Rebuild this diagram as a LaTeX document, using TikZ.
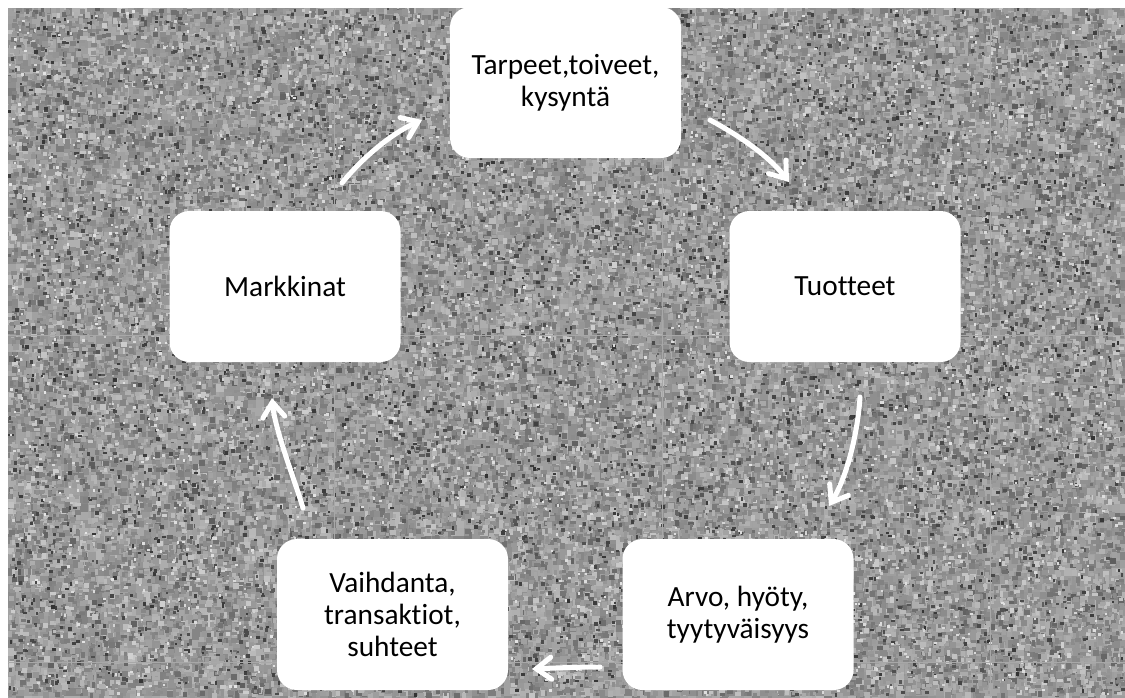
\documentclass[tikz,border=0pt]{standalone}
\usepackage{fontspec}
\setmainfont{Carlito}[Ligatures=NoCommon]
\usetikzlibrary{arrows.meta}

% Speckled granite backdrop, written as plain PDF fill operators
% (coordinates in px, y pointing down, origin at the picture corner).
\makeatletter
\newcount\grI \newcount\grJ \newcount\grK \newcount\grV
\newcount\grN \newcount\grW \newcount\grH
\ifdefined\setrandomseed \setrandomseed 4242 \fi
% coarse mottling: a grid of 8px cells
\def\grFill{%
  \ifnum\grK<20
    \grV=\numexpr 48+\uniformdeviate 14+\uniformdeviate 14\relax
    \edef\grBuf{\grBuf .\the\grV\space g \the\numexpr 8+8*\grI\relax\space
      \the\numexpr 8+8*\grJ\relax\space 8 8 re f }%
    \advance\grI 1 \advance\grK 1
    \expandafter\grFill
  \fi}
\def\grChunk{\def\grBuf{}\grK=0 \grFill\pgfsys@invoke{\grBuf}}
\def\grRow{\ifnum\grI<140 \grChunk\expandafter\grRow\fi}
\def\grRows{\ifnum\grJ<87 \grI=0 \grRow\advance\grJ 1 \expandafter\grRows\fi}
% scattered grains: count, gray base, gray spread (two dice), min size, size spread
\def\grScatter#1#2#3#4#5{%
  \grN=0
  \def\grInner{\ifnum\grK<25
      \grV=\numexpr #2+\uniformdeviate #3+\uniformdeviate #3\relax
      \grW=\numexpr #4+\uniformdeviate #5\relax
      \grH=\numexpr #4+\uniformdeviate #5\relax
      \edef\grBuf{\grBuf .\the\grV\space g
        \the\numexpr 8+\uniformdeviate 1114\relax\space
        \the\numexpr 8+\uniformdeviate 686\relax\space
        \the\grW\space\the\grH\space re f }%
      \advance\grK 1 \advance\grN 1
      \expandafter\grInner\fi}%
  \def\grOuter{\ifnum\grN<#1
      \def\grBuf{}\grK=0 \grInner\pgfsys@invoke{\grBuf}%
      \expandafter\grOuter\fi}%
  \grOuter}
\def\graniteBackdrop{%
  \pgfsys@invoke{q 0.99626 0 0 -0.99626 0 0 cm .60 g 8 8 1117 689 re f}%
  \grJ=0 \grRows
  \grScatter{40000}{36}{24}{3}{4}%
  \grScatter{3500}{20}{9}{2}{3}%
  \grScatter{1600}{82}{5}{2}{2}%
  % faint joints between the stone tiles
  \pgfsys@invoke{.66 g 334.5 8 1 689 re f 662.5 8 1 689 re f 990 8 1 689 re f
    8 334.5 1117 1 re f 8 662.5 1117 1 re f}%
  \pgfsys@invoke{Q}}
\makeatother

\begin{document}
\begin{tikzpicture}[x=1pt,y=-1pt,
  card/.style={fill=white, rounded corners=20pt, minimum width=231pt,
    minimum height=151pt, align=center, inner sep=0pt, text=black,
    font=\fontsize{29.3}{32}\selectfont},
  flow/.style={draw=white, line width=5pt, line cap=round,
    -{Straight Barb[length=15pt,width=22pt,line cap=round]}}]
\useasboundingbox (0,0) rectangle (1125,697);

\graniteBackdrop

% cards
\node[card] (needs)    at (565.5,82.5)  {Tarpeet,toiveet,\\kysyntä};
\node[card] (markets)  at (285,286.5)   {Markkinat};
\node[card] (products) at (845,286.5)   {Tuotteet};
\node[card] (value)    at (738,614.5)   {Arvo, hyöty,\\tyytyväisyys};
\node[card] (exchange) at (392.5,614.5) {Vaihdanta,\\transaktiot,\\suhteet};

% arrow end points
\coordinate (a1s) at (342,183); \coordinate (a1e) at (422,120);
\coordinate (a2s) at (710,120); \coordinate (a2e) at (789,182);
\coordinate (a3s) at (860,397); \coordinate (a3e) at (829,506);
\coordinate (a4s) at (600,667); \coordinate (a4e) at (532,669);
\coordinate (a5s) at (303,508); \coordinate (a5e) at (272,398);

\draw[flow] (a1s) .. controls (362,158) and (392,133) .. (a1e);
\draw[flow] (a2s) .. controls (738,135) and (768,155) .. (a2e);
\draw[flow] (a3s) .. controls (858,430) and (848,475) .. (a3e);
\draw[flow] (a4s) .. controls (578,667) and (555,668) .. (a4e);
\draw[flow] (a5s) .. controls (294,478) and (275,430) .. (a5e);
\end{tikzpicture}
\end{document}
